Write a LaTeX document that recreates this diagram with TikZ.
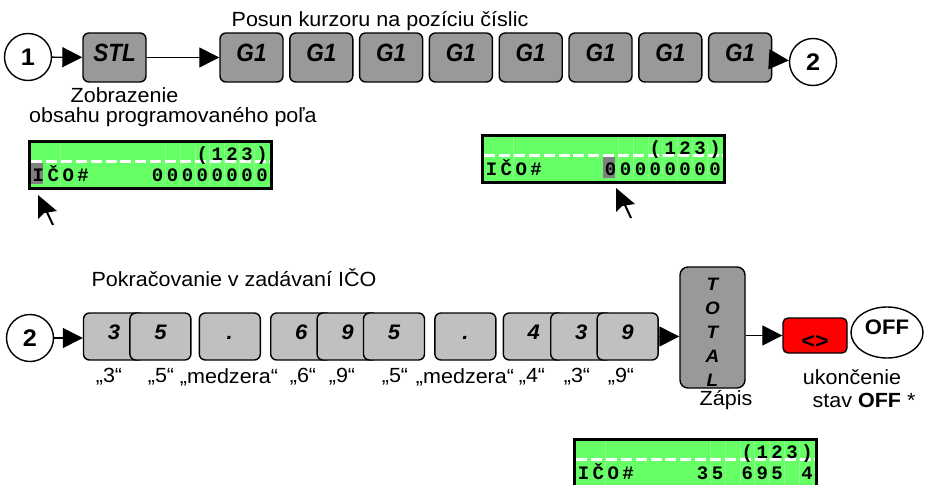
\documentclass[tikz,border=0pt]{standalone}
\usepackage{fontspec}
\setmainfont{Liberation Sans}[FakeStretch=1.05]
\newfontfamily\keyfont{Liberation Sans}[FakeStretch=0.9]
\newfontfamily\lcdfont{Liberation Mono}
\usetikzlibrary{shapes.geometric, arrows.meta, positioning}

\definecolor{keydarkgray}{HTML}{999999}
\definecolor{keylightgray}{HTML}{C0C0C0}
\definecolor{lcdgreen}{HTML}{66FF66}
\definecolor{cursorgray}{HTML}{808080}

\tikzstyle{keytop} = [rectangle, rounded corners=6pt, draw=black, line width=1.4pt, fill=keydarkgray, minimum width=63pt, minimum height=49pt, inner sep=0pt, font=\keyfont\fontsize{25}{25}\selectfont\bfseries\itshape, text height=17.9pt, text depth=10pt]
\tikzstyle{keylow} = [rectangle, rounded corners=6pt, draw=black, line width=1.4pt, fill=keylightgray, minimum width=61pt, minimum height=47pt, inner sep=0pt, font=\fontsize{21}{21}\selectfont\bfseries\itshape, text height=15pt, text depth=9pt]
\tikzstyle{keytall} = [rectangle, rounded corners=8pt, draw=black, line width=1.4pt, fill=keydarkgray, minimum width=65pt, minimum height=121pt, inner sep=0pt]
\tikzstyle{redbtn} = [rectangle, rounded corners=5pt, draw=black, line width=1.4pt, fill=red, minimum width=64pt, minimum height=35pt, inner sep=0pt, font=\fontsize{22}{22}\selectfont\bfseries, text height=25pt, text depth=0pt]
\tikzstyle{offbtn} = [ellipse, draw=black, line width=1.4pt, fill=white, minimum width=72pt, minimum height=51pt, inner sep=0pt, font=\fontsize{21}{21}\selectfont\bfseries, text height=15pt, text depth=11pt]
\tikzstyle{circ} = [circle, draw=black, line width=1.4pt, fill=white, minimum size=47pt, inner sep=0pt, font=\fontsize{24}{24}\selectfont\bfseries]
\tikzstyle{txt} = [inner sep=0pt, font=\fontsize{20.5}{22}\selectfont]
\tikzstyle{arrow} = [line width=1.3pt, -{Triangle[length=20pt, width=20pt]}]
\tikzstyle{lcdchar} = [inner sep=0pt, anchor=base, font=\lcdfont\fontsize{19}{19}\selectfont\bfseries]
\tikzstyle{lcdgrid} = [draw=lcdgreen!75!white, line width=0.7pt]
\tikzstyle{lcddash} = [white, line width=3pt, dash pattern=on 11pt off 3.9pt]

\tikzset{pics/mouseptr/.style={code={
  \fill (0,0) -- (0,24) -- (6,18) -- (19,16) -- cycle;
  \draw[line width=2pt] (8,15) -- (15,30);
}}}

% #1 name, #2 top-left corner, #3 cursor column, #4 top row, #5 bottom row
\newcommand{\lcdpanel}[5]{%
  \begin{scope}[shift={#2}]
    \fill[black] (0,0) rectangle (245,50);
    \fill[lcdgreen] (3,3) rectangle (242,47);
    \foreach \k in {2,9,10,...,15}
      \draw[lcdgrid] ({3+14.9*\k},3) -- ({3+14.9*\k},47);
    \ifnum#3>-1 \fill[cursorgray] ({3+14.9*#3},23) rectangle ({15+14.9*#3},44);\fi
    \draw[lcddash] (3,21) -- (242,21);
    \foreach \c/\ch in {#4}
      \node (#1-t\c) [lcdchar] at ({10.45+14.9*\c},20) {\ch};
    \foreach \c/\ch in {#5}
      \node (#1-b\c) [lcdchar] at ({10.45+14.9*\c},41.5) {\ch};
  \end{scope}}

\begin{document}
\begin{tikzpicture}[x=1pt, y=-1pt]
    \useasboundingbox (0,0) rectangle (925,484);

    % first sequence
    \node (one) [circ] at (28,57) {1};
    \node (stl) [keytop] at (114.5,57.5) {STL};
    \node (g1) [keytop] at (251.5,57.5) {G1};
    \foreach \i [count=\j from 1] in {2,...,8}
        \node (g\i) [keytop, right=5.4pt of g\j] {G1};
    \node (two) [circ] at (813,62) {2};

    \draw [arrow] (one) -- (stl);
    \draw [arrow] (stl) -- (g1);
    \draw [arrow] (g8) -- (two);

    \node (posun) [txt] at (380,21) {Posun kurzoru na pozíciu číslic};
    \node (zobr) [txt] at (124.5,95) {Zobrazenie};
    \node (obsah) [txt] at (173,117) {obsahu programovaného poľa};

    \lcdpanel{lcdA}{(28,140)}{0}{11/{(},12/1,13/2,14/3,15/{)}}{0/I,1/Č,2/O,3/\#,8/0,9/0,10/0,11/0,12/0,13/0,14/0,15/0}
    \lcdpanel{lcdB}{(481,134)}{8}{11/{(},12/1,13/2,14/3,15/{)}}{0/I,1/Č,2/O,3/\#,8/0,9/0,10/0,11/0,12/0,13/0,14/0,15/0}
    \pic at (38,195) {mouseptr};
    \pic at (616,188) {mouseptr};

    % second sequence
    \node (pokr) [txt] at (234,278) {Pokračovanie v zadávaní IČO};
    \node (twoB) [circ] at (30,338) {2};
    \node (k1) [keylow] at (114,336.5) {3};
    \node (k2) [keylow, right=-16pt of k1] {5};
    \node (dot1) [keylow, right=7pt of k2] {.};
    \node (k3) [keylow, right=9pt of dot1] {6};
    \node (k4) [keylow, right=-16pt of k3] {9};
    \node (k5) [keylow, right=-16pt of k4] {5};
    \node (dot2) [keylow, right=9pt of k5] {.};
    \node (k6) [keylow, right=6pt of dot2] {4};
    \node (k7) [keylow, right=-15pt of k6] {3};
    \node (k8) [keylow, right=-16pt of k7] {9};

    \node (q1) [txt] at (109,377) {„3“};
    \node (q2) [txt] at (161,377) {„5“};
    \node (q3) [txt] at (229,377) {„medzera“};
    \node (q4) [txt] at (303,377) {„6“};
    \node (q5) [txt] at (342,377) {„9“};
    \node (q6) [txt] at (395,377) {„5“};
    \node (q7) [txt] at (465,377) {„medzera“};
    \node (q8) [txt] at (532,377) {„4“};
    \node (q9) [txt] at (577,377) {„3“};
    \node (q10) [txt] at (621,377) {„9“};

    \node (total) [keytall] at (712.5,327.5) {};
    \node (totaltext) [inner sep=0pt, anchor=north, align=center, font=\fontsize{18}{24}\selectfont\bfseries\itshape] at ([yshift=-12pt]total.north) {T\\O\\T\\A\\L};
    \node (zapis) [txt] at (726,400) {Zápis};

    \node (red) [redbtn] at (815,335.5) {<>};
    \node (off) [offbtn] at (887,332.5) {OFF};
    \node (ukonc) [txt] at (852,377) {ukončenie};
    \node (stav) [txt] at (864,400) {stav \textbf{OFF} *};

    \draw [arrow] (twoB) -- (twoB -| k1.west);
    \draw [arrow] (k8) -- (k8 -| total.west);
    \draw [arrow] (total.east |- red) -- (red);

    \lcdpanel{lcdC}{(573,438)}{-1}{11/{(},12/1,13/2,14/3,15/{)}}{0/I,1/Č,2/O,3/\#,8/3,9/5,11/6,12/9,13/5,15/4}

\end{tikzpicture}
\end{document}
